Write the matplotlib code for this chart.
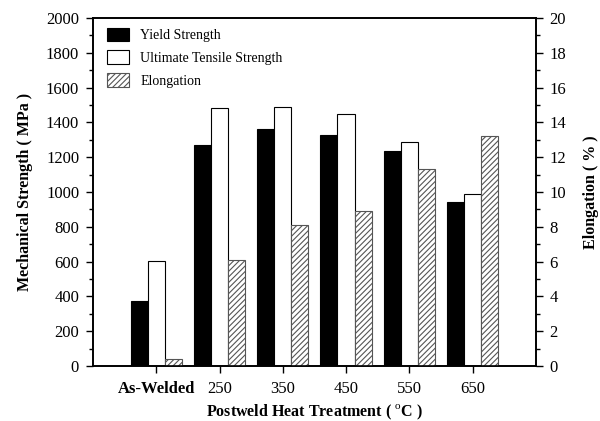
import numpy as np
import matplotlib.pyplot as plt
from matplotlib.ticker import MultipleLocator

plt.rcParams['font.family'] = ['Liberation Serif', 'DejaVu Serif']
plt.rcParams['mathtext.fontset'] = 'custom'
plt.rcParams['mathtext.rm'] = 'Liberation Serif'
plt.rcParams['hatch.linewidth'] = 0.8

treatments = ["As-Welded", "250", "350", "450", "550", "650"]
yield_strength = [375, 1270, 1360, 1325, 1235, 945]
uts = [605, 1485, 1490, 1450, 1290, 990]
elongation = [0.4, 6.1, 8.1, 8.9, 11.3, 13.2]

x = np.arange(len(treatments))
w = 0.27

fig = plt.figure(figsize=(6, 4.21), dpi=100)
ax1 = fig.add_axes([0.155, 0.1306, 0.738, 0.8266])
ax2 = ax1.twinx()

b1 = ax1.bar(x - w, yield_strength, w, color='black', edgecolor='black',
             linewidth=0.8, label='Yield Strength')
b2 = ax1.bar(x, uts, w, color='white', edgecolor='black',
             linewidth=0.8, label='Ultimate Tensile Strength')
b3 = ax2.bar(x + w, elongation, w, color='white', edgecolor='#555555',
             hatch='//////', linewidth=0.8, label='Elongation')

ax1.set_xlim(-1, 6)
ax1.set_ylim(0, 2000)
ax2.set_ylim(0, 20)
ax1.set_xticks(x)
ax1.set_xticklabels(treatments)
ax1.yaxis.set_major_locator(MultipleLocator(200))
ax1.yaxis.set_minor_locator(MultipleLocator(100))
ax2.yaxis.set_major_locator(MultipleLocator(2))
ax2.yaxis.set_minor_locator(MultipleLocator(1))

for ax in (ax1, ax2):
    ax.tick_params(which='major', direction='out', length=5, width=1,
                   labelsize=12, pad=5)
    ax.tick_params(which='minor', direction='out', length=3, width=1)
    for s in ax.spines.values():
        s.set_linewidth(1.2)
ax1.tick_params(axis='x', labelsize=12, pad=6)
ax1.get_xticklabels()[0].set_fontweight('bold')

ax1.set_xlabel('Postweld Heat Treatment ( $^{\\mathrm{o}}$C )', fontsize=11.5,
               fontweight='bold', labelpad=4)
ax1.set_ylabel('Mechanical Strength ( MPa )', fontsize=11.5, fontweight='bold',
               labelpad=9)
ax2.set_ylabel('Elongation ( % )', fontsize=11.5, fontweight='bold', labelpad=12)

ax1.legend([b1, b2, b3], ['Yield Strength', 'Ultimate Tensile Strength', 'Elongation'],
           loc='upper left', frameon=False, fontsize=10, handlelength=1.6,
           handleheight=1.1, borderaxespad=0.3, labelspacing=0.6,
           bbox_to_anchor=(0.01, 1.0))

fig.savefig('out.png', dpi=100)
